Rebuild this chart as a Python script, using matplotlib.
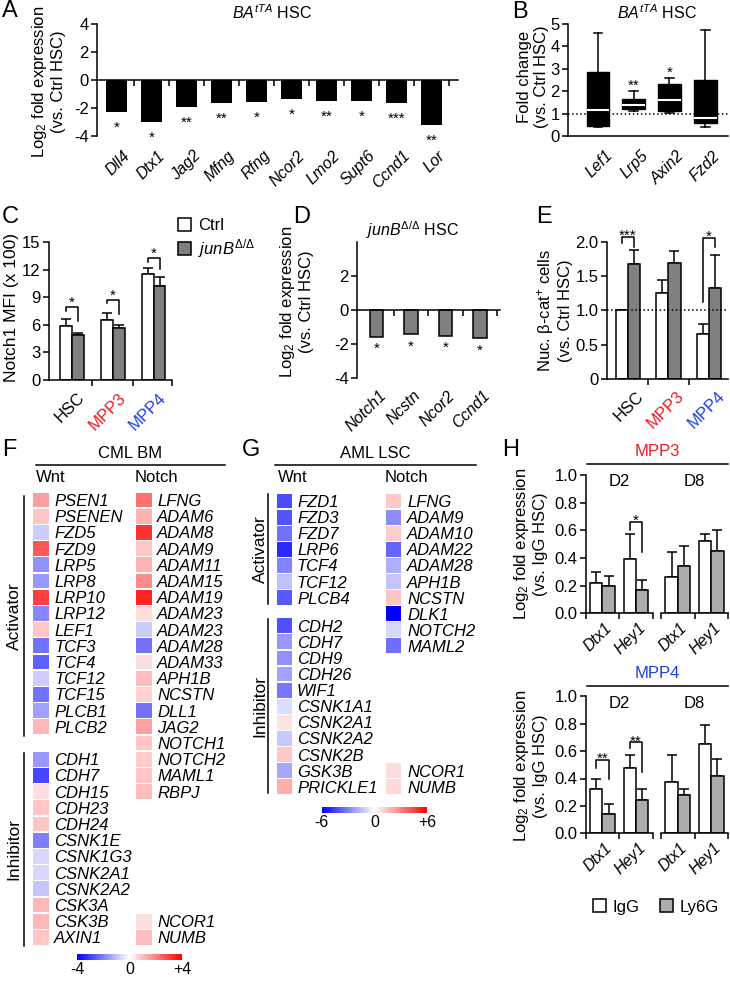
import numpy as np
import matplotlib
matplotlib.use('Agg')
import matplotlib.pyplot as plt
from matplotlib.lines import Line2D
from matplotlib.patches import Patch
from matplotlib.colors import Normalize
from matplotlib.cm import ScalarMappable

plt.rcParams['font.family'] = ['Liberation Sans', 'DejaVu Sans']
plt.rcParams['mathtext.fontset'] = 'custom'
plt.rcParams['mathtext.rm'] = 'Liberation Sans'
plt.rcParams['mathtext.it'] = 'Liberation Sans:italic'
plt.rcParams['mathtext.bf'] = 'Liberation Sans:bold'
plt.rcParams['axes.unicode_minus'] = False
plt.rcParams['axes.linewidth'] = 1.1
plt.rcParams['xtick.labelsize'] = 12
plt.rcParams['ytick.labelsize'] = 12

RED = '#ec1c24'
BLUE = '#1f3fe6'
GREY = '#808080'
LGREY = '#acacac'

# ---- data ----
# A
a_genes = ['Dll4', 'Dtx1', 'Jag2', 'Mfng', 'Rfng', 'Ncor2', 'Lmo2', 'Supt6', 'Ccnd1', 'Lor']
a_vals = [-2.28, -2.97, -1.9, -1.66, -1.55, -1.36, -1.5, -1.5, -1.66, -3.2]
a_sig = ['*', '*', '**', '**', '*', '*', '**', '*', '***', '**']

# B (box plots)
b_genes = ['Lef1', 'Lrp5', 'Axin2', 'Fzd2']
b_whislo = [0.38, 1.12, 1.01, 0.42]
b_q1 = [0.45, 1.19, 1.13, 0.6]
b_med = [1.16, 1.38, 1.6, 0.82]
b_q3 = [2.87, 1.65, 2.31, 2.5]
b_whishi = [4.59, 2.02, 2.58, 4.73]
b_sig = ['', '**', '*', '']

# C
c_groups = ['HSC', 'MPP3', 'MPP4']
c_ctrl = [5.85, 6.5, 11.5]
c_ctrl_err = [0.8, 0.8, 0.7]
c_junb = [4.85, 5.7, 10.2]
c_junb_err = [0.3, 0.3, 1.0]

# D
d_genes = ['Notch1', 'Ncstn', 'Ncor2', 'Ccnd1']
d_vals = [-1.57, -1.43, -1.51, -1.67]

# E
e_groups = ['HSC', 'MPP3', 'MPP4']
e_ctrl = [1.0, 1.26, 0.66]
e_ctrl_err = [0.0, 0.19, 0.14]
e_junb = [1.675, 1.695, 1.32]
e_junb_err = [0.2, 0.17, 0.49]

# F (CML BM), colour scale -4..+4
f_wnt_act = ['PSEN1', 'PSENEN', 'FZD5', 'FZD9', 'LRP5', 'LRP8', 'LRP10', 'LRP12', 'LEF1',
             'TCF3', 'TCF4', 'TCF12', 'TCF15', 'PLCB1', 'PLCB2']
f_wnt_act_vals = [1.5, 0.9, -0.8, 2.6, -1.7, -1.6, 3.0, -1.9, 0.9,
                  -2.2, -2.5, -0.8, -2.2, -1.5, 1.1]
f_wnt_inh = ['CDH1', 'CDH7', 'CDH15', 'CDH23', 'CDH24', 'CSNK1E', 'CSNK1G3', 'CSNK2A1',
             'CSNK2A2', 'CSK3A', 'CSK3B', 'AXIN1']
f_wnt_inh_vals = [-1.6, -2.9, 0.5, 0.9, 0.9, -2.0, -0.6, -0.6, -0.9, 1.1, 1.1, 0.9]
f_notch_act = ['LFNG', 'ADAM6', 'ADAM8', 'ADAM9', 'ADAM11', 'ADAM15', 'ADAM19', 'ADAM23',
               'ADAM23', 'ADAM28', 'ADAM33', 'APH1B', 'NCSTN', 'DLL1', 'JAG2', 'NOTCH1',
               'NOTCH2', 'MAML1', 'RBPJ']
f_notch_act_vals = [2.2, 1.2, 3.2, 0.9, 1.2, 1.8, 3.4, 0.5, -0.8, -2.2, 0.5, 1.0, 0.7,
                    -2.2, 1.5, 0.9, 0.8, 0.9, 1.0]
f_notch_inh = ['NCOR1', 'NUMB']
f_notch_inh_vals = [0.5, 1.0]

# G (AML LSC), colour scale -6..+6
g_wnt_act = ['FZD1', 'FZD3', 'FZD7', 'LRP6', 'TCF4', 'TCF12', 'PLCB4']
g_wnt_act_vals = [-4.2, -4.0, -3.3, -5.0, -2.9, -1.5, -3.9]
g_wnt_inh = ['CDH2', 'CDH7', 'CDH9', 'CDH26', 'WIF1', 'CSNK1A1', 'CSNK2A1', 'CSNK2A2',
             'CSNK2B', 'GSK3B', 'PRICKLE1']
g_wnt_inh_vals = [-4.1, -2.4, -2.6, -2.2, -3.2, -0.8, 0.7, -1.3, 1.3, -2.1, 1.9]
g_notch_act = ['LFNG', 'ADAM9', 'ADAM10', 'ADAM22', 'ADAM28', 'APH1B', 'NCSTN', 'DLK1',
               'NOTCH2', 'MAML2']
g_notch_act_vals = [1.3, -2.7, 1.2, -3.6, -1.9, -1.4, 1.4, -6.0, -0.9, -3.4]
g_notch_inh = ['NCOR1', 'NUMB']
g_notch_inh_vals = [0.8, 0.9]

# H
h_genes = ['Dtx1', 'Hey1']
h3_d2_igg = [0.22, 0.395]
h3_d2_igg_err = [0.08, 0.18]
h3_d2_ly = [0.20, 0.17]
h3_d2_ly_err = [0.07, 0.07]
h3_d8_igg = [0.26, 0.52]
h3_d8_igg_err = [0.18, 0.05]
h3_d8_ly = [0.345, 0.45]
h3_d8_ly_err = [0.145, 0.15]
h4_d2_igg = [0.32, 0.48]
h4_d2_igg_err = [0.08, 0.09]
h4_d2_ly = [0.14, 0.24]
h4_d2_ly_err = [0.075, 0.08]
h4_d8_igg = [0.375, 0.65]
h4_d8_igg_err = [0.2, 0.14]
h4_d8_ly = [0.28, 0.42]
h4_d8_ly_err = [0.045, 0.125]

# ---- helpers ----
W, H = 730, 981
fig = plt.figure(figsize=(W / 100, H / 100), dpi=100)


def px_axes(x0, y0, x1, y1):
    return fig.add_axes([x0 / W, 1 - y1 / H, (x1 - x0) / W, (y1 - y0) / H])


def ftext(x, y, s, **kw):
    return fig.text(x / W, 1 - y / H, s, **kw)


def fline(x0, x1, y):
    fig.add_artist(Line2D([x0 / W, x1 / W], [1 - y / H] * 2, color='black', lw=1.1,
                          transform=fig.transFigure))


def prism(ax):
    for s in ('top', 'right'):
        ax.spines[s].set_visible(False)
    ax.tick_params(direction='out', length=4, width=1.1, pad=2)


def rot_labels(ax, pos, labels, dx, dy, colors=None, italic=True, size=11.5):
    for i, (p, lab) in enumerate(zip(pos, labels)):
        ax.annotate(lab, (p, 0), xycoords=('data', 'axes fraction'),
                    xytext=(dx, -dy), textcoords='offset pixels',
                    ha='right', va='top', rotation=45, rotation_mode='anchor',
                    fontsize=size, style='italic' if italic else 'normal',
                    color=colors[i] if colors else 'black', annotation_clip=False)


def bracket(ax, x1, x2, top, yl, yr, s, off=0):
    ax.plot([x1, x1, x2, x2], [yl, top, top, yr], color='black', lw=1.1, clip_on=False)
    ax.annotate(s, ((x1 + x2) / 2, top), xytext=(0, off), textcoords='offset pixels',
                ha='center', va='baseline', fontsize=11, annotation_clip=False)


def grouped(ax, x, w, v1, e1, v2, e2, c2):
    x = np.asarray(x, dtype=float)
    ax.bar(x - w / 2, v1, w, color='white', edgecolor='black', lw=1.1, zorder=2)
    ax.bar(x + w / 2, v2, w, color=c2, edgecolor='black', lw=1.1, zorder=2)
    ax.errorbar(x - w / 2, v1, yerr=[np.zeros(len(v1)), e1], fmt='none', ecolor='black',
                elinewidth=1.1, capsize=3.5, capthick=1.1, zorder=1)
    ax.errorbar(x + w / 2, v2, yerr=[np.zeros(len(v2)), e2], fmt='none', ecolor='black',
                elinewidth=1.1, capsize=3.5, capthick=1.1, zorder=1)


# ---- A ----
ax = px_axes(97, 24, 458, 136)
prism(ax)
xa = np.arange(len(a_genes))
ax.bar(xa, a_vals, 0.6, color='black')
ax.set_xlim(-0.56, 9.76)
ax.set_ylim(-4, 4)
ax.set_yticks([-4, -2, 0, 2, 4])
ax.spines['bottom'].set_position(('data', 0))
ax.set_xticks(np.arange(0.5, 10, 1))
ax.set_xticklabels([])
for xi, v, s in zip(xa, a_vals, a_sig):
    ax.annotate(s, (xi, v), xytext=(0, -20), textcoords='offset pixels',
                ha='center', va='baseline', fontsize=11)
rot_labels(ax, xa, a_genes, 6, 12)
ftext(272, 13, r'$BA^{tTA}$ HSC', ha='center', va='center', fontsize=11.5)
ftext(48, 82, 'Log$_2$ fold expression\n(vs. Ctrl HSC)', ha='center', va='center',
      rotation=90, fontsize=12, linespacing=1.1)

# ---- B ----
ax = px_axes(568, 24, 728, 136)
prism(ax)
xb = np.arange(len(b_genes))
stats = [dict(whislo=lo, q1=q1, med=m, q3=q3, whishi=hi)
         for lo, q1, m, q3, hi in zip(b_whislo, b_q1, b_med, b_q3, b_whishi)]
ax.bxp(stats, positions=xb, widths=0.64, showfliers=False, patch_artist=True,
       capwidths=0.25,
       boxprops=dict(facecolor='black', edgecolor='black', lw=1),
       medianprops=dict(color='white', lw=1.5),
       whiskerprops=dict(color='black', lw=1.1),
       capprops=dict(color='black', lw=1.1))
ax.axhline(1, ls=':', color='black', lw=1.1, zorder=0)
for xi, hi, s in zip(xb, b_whishi, b_sig):
    if s:
        ax.annotate(s, (xi, hi), xytext=(0, 1), textcoords='offset pixels',
                    ha='center', va='baseline', fontsize=11)
ax.set_xlim(-0.84, 3.64)
ax.set_ylim(0, 5)
ax.set_yticks([0, 1, 2, 3, 4, 5])
ax.set_xticks([])
rot_labels(ax, xb, b_genes, 7, 12)
ftext(657, 13, r'$BA^{tTA}$ HSC', ha='center', va='center', fontsize=11.5)
ftext(533, 77, 'Fold change\n(vs. Ctrl HSC)', ha='center', va='center',
      rotation=90, fontsize=12, linespacing=1.1)

# ---- C ----
ax = px_axes(49, 242, 172, 380)
prism(ax)
xc = np.arange(len(c_groups))
grouped(ax, xc, 0.29, c_ctrl, c_ctrl_err, c_junb, c_junb_err, GREY)
ax.set_xlim(-0.56, 2.45)
ax.set_ylim(0, 15)
ax.set_yticks([0, 3, 6, 9, 12, 15])
ax.set_xticks([0.5, 1.5, 2.45])
ax.set_xticklabels([])
bracket(ax, -0.145, 0.145, 7.95, 7.45, 6.4, '*')
bracket(ax, 0.855, 1.145, 8.75, 8.4, 7.2, '*')
bracket(ax, 1.855, 2.145, 13.3, 12.8, 12.1, '*')
rot_labels(ax, xc, c_groups, 5, 10, colors=['black', RED, BLUE], italic=False, size=12)
ftext(12, 308, 'Notch1 MFI (x 100)', ha='center', va='center', rotation=90, fontsize=12.5)
fig.legend([Patch(facecolor='white', edgecolor='black', lw=1.1),
            Patch(facecolor=GREY, edgecolor='black', lw=1.1)],
           ['Ctrl', r'$junB^{\Delta/\Delta}$'],
           loc='upper left', bbox_to_anchor=(178 / W, 1 - 218 / H), frameon=False,
           fontsize=12, handlelength=0.8, handleheight=0.8, handletextpad=0.4,
           labelspacing=0.25, borderpad=0, borderaxespad=0)

# ---- D ----
ax = px_axes(357, 242, 500, 378)
prism(ax)
xd = np.arange(len(d_genes))
ax.bar(xd, d_vals, 0.39, color=GREY, edgecolor='black', lw=1.1)
ax.set_xlim(-0.565, 3.58)
ax.set_ylim(-4, 4)
ax.set_yticks([-4, -2, 0, 2])
ax.spines['bottom'].set_position(('data', 0))
ax.set_xticks(np.arange(0.5, 4, 1))
ax.set_xticklabels([])
for xi, v in zip(xd, d_vals):
    ax.annotate('*', (xi, v), xytext=(0, -16), textcoords='offset pixels',
                ha='center', va='baseline', fontsize=11)
rot_labels(ax, xd, d_genes, 2, 10)
ftext(413, 230, r'$junB^{\Delta/\Delta}$ HSC', ha='center', va='center', fontsize=11.5)
ftext(296, 302, 'Log$_2$ fold expression\n(vs. Ctrl HSC)', ha='center', va='center',
      rotation=90, fontsize=12, linespacing=1.1)

# ---- E ----
ax = px_axes(606.7, 241.7, 728, 379.3)
prism(ax)
xe = np.arange(len(e_groups))
grouped(ax, xe, 0.3, e_ctrl, e_ctrl_err, e_junb, e_junb_err, GREY)
ax.axhline(1, ls=':', color='black', lw=1.1, zorder=3)
ax.set_xlim(-0.52, 2.47)
ax.set_ylim(0, 2.0)
ax.set_yticks([0, 0.5, 1.0, 1.5, 2.0])
ax.set_yticklabels(['0', '0.5', '1.0', '1.5', '2.0'])
ax.set_xticks([0.5, 1.5])
ax.set_xticklabels([])
bracket(ax, -0.15, 0.15, 2.07, 1.98, 1.92, '***', off=-3)
bracket(ax, 1.85, 2.15, 2.05, 1.13, 1.92, '*', off=-3)
rot_labels(ax, xe, e_groups, 8, 9, colors=['black', RED, BLUE], italic=False, size=12)
ftext(554, 311, 'Nuc. β-cat$^{+}$ cells\n(vs. Ctrl HSC)', ha='center', va='center',
      rotation=90, fontsize=12, linespacing=1.1)

# ---- F / G heatmaps ----
cmap = plt.get_cmap('bwr')


def heat_axes(left, right, y_first, pitch, row_max):
    ax = px_axes(left, y_first - pitch / 2, right, y_first + (row_max + 0.5) * pitch)
    ax.set_xlim(0, right - left)
    ax.set_ylim(row_max + 0.5, -0.5)
    ax.axis('off')
    return ax


def heat_col(ax, rows, vals, genes, cell_x, label_x, norm, cell_w):
    ax.barh(rows, cell_w, left=cell_x, height=0.92, color=cmap(norm(np.asarray(vals))))
    for r, g in zip(rows, genes):
        ax.text(label_x, r, g, ha='left', va='center_baseline', style='italic', fontsize=12)


def side_label(ax, x_line, x_text, r0, r1, s):
    ax.plot([x_line, x_line], [r0, r1], color='black', lw=1.1, clip_on=False)
    ax.text(x_text, (r0 + r1) / 2, s, rotation=90, ha='center', va='center', fontsize=12.5)


def heat_cbar(x0, y0, x1, y1, lim):
    cax = px_axes(x0, y0, x1, y1)
    cb = fig.colorbar(ScalarMappable(Normalize(-lim, lim), cmap), cax=cax,
                      orientation='horizontal', ticks=[-lim, 0, lim])
    cb.outline.set_visible(False)
    cax.set_xticklabels(['-%d' % lim, '0', '+%d' % lim])
    cax.tick_params(length=0, labelsize=11.5, pad=1.5)


# F
fnorm = Normalize(-4, 4)
ax = heat_axes(33, 250, 500, 16.2, 27)
n_fa = len(f_wnt_act)
rows_fa = np.arange(n_fa)
rows_fi = n_fa + 1 + np.arange(len(f_wnt_inh))
rows_fna = np.arange(len(f_notch_act))
rows_fni = rows_fi[-len(f_notch_inh):]
heat_col(ax, rows_fa, f_wnt_act_vals, f_wnt_act, 0, 21, fnorm, 16)
heat_col(ax, rows_fi, f_wnt_inh_vals, f_wnt_inh, 0, 21, fnorm, 16)
heat_col(ax, rows_fna, f_notch_act_vals, f_notch_act, 103, 124, fnorm, 16)
heat_col(ax, rows_fni, f_notch_inh_vals, f_notch_inh, 103, 124, fnorm, 16)
side_label(ax, -9, -19, rows_fa[0] - 0.25, rows_fa[-1] + 0.55, 'Activator')
side_label(ax, -9, -19, rows_fi[0] - 0.4, rows_fi[-1] + 0.5, 'Inhibitor')
ax.text(97, -2.9, 'CML BM', ha='center', va='center', fontsize=12)
ax.plot([3, 192], [-2.16, -2.16], color='black', lw=1.1, clip_on=False)
ax.text(3, -1.36, 'Wnt', ha='left', va='center', fontsize=12)
ax.text(102, -1.36, 'Notch', ha='left', va='center', fontsize=12)
heat_cbar(77, 954, 182, 960, 4)

# G
gnorm = Normalize(-6, 6)
ax = heat_axes(277, 490, 501, 16.1, 17.75)
rows_ga = np.arange(len(g_wnt_act))
rows_gi = 7.75 + np.arange(len(g_wnt_inh))
rows_gna = np.arange(len(g_notch_act))
rows_gni = rows_gi[-len(g_notch_inh):]
heat_col(ax, rows_ga, g_wnt_act_vals, g_wnt_act, 0, 20, gnorm, 15)
heat_col(ax, rows_gi, g_wnt_inh_vals, g_wnt_inh, 0, 20, gnorm, 15)
heat_col(ax, rows_gna, g_notch_act_vals, g_notch_act, 109, 130, gnorm, 15)
heat_col(ax, rows_gni, g_notch_inh_vals, g_notch_inh, 109, 130, gnorm, 15)
side_label(ax, -9, -17, rows_ga[0] - 0.45, rows_ga[-1] + 0.4, 'Activator')
side_label(ax, -9, -17, rows_gi[0] - 0.45, rows_gi[-1] + 0.4, 'Inhibitor')
ax.text(98, -2.98, 'AML LSC', ha='center', va='center', fontsize=12)
ax.plot([-2, 199], [-2.24, -2.24], color='black', lw=1.1, clip_on=False)
ax.text(1, -1.43, 'Wnt', ha='left', va='center', fontsize=12)
ax.text(108, -1.43, 'Notch', ha='left', va='center', fontsize=12)
heat_cbar(321.7, 806.7, 427.3, 812.7, 6)

# ---- H ----
xh = np.arange(len(h_genes))


def h_pair(y0, y1, d2, d8):
    axl = px_axes(585.7, y0, 652.7, y1)
    axr = px_axes(661, y0, 728, y1)
    for a, data, name in ((axl, d2, 'D2'), (axr, d8, 'D8')):
        prism(a)
        grouped(a, xh, 0.37, data[0], data[1], data[2], data[3], LGREY)
        a.set_xlim(-0.5, 1.5)
        a.set_ylim(0, 1.0)
        a.set_xticks([-0.5, 0.5, 1.5])
        a.set_xticklabels([])
        a.text(0.5, 0.95, name, transform=a.transAxes, ha='center', va='center',
               fontsize=12)
        rot_labels(a, xh, h_genes, 2, 7)
    axl.set_yticks(np.arange(0, 1.01, 0.2))
    axl.set_yticklabels(['0.0', '0.2', '0.4', '0.6', '0.8', '1.0'])
    axr.spines['left'].set_visible(False)
    axr.set_yticks([])
    return axl, axr


axl, axr = h_pair(475, 613.3, (h3_d2_igg, h3_d2_igg_err, h3_d2_ly, h3_d2_ly_err),
                  (h3_d8_igg, h3_d8_igg_err, h3_d8_ly, h3_d8_ly_err))
bracket(axl, 1 - 0.185, 1 + 0.185, 0.66, 0.6, 0.445, '*', off=-3)
ftext(657, 452, 'MPP3', ha='center', va='center', fontsize=12, color=RED)
fline(587, 728, 464)
ftext(530, 544, 'Log$_2$ fold expression\n(vs. IgG HSC)', ha='center', va='center',
      rotation=90, fontsize=12, linespacing=1.1)

axl, axr = h_pair(696.3, 833.3, (h4_d2_igg, h4_d2_igg_err, h4_d2_ly, h4_d2_ly_err),
                  (h4_d8_igg, h4_d8_igg_err, h4_d8_ly, h4_d8_ly_err))
bracket(axl, -0.185, 0.185, 0.537, 0.476, 0.40, '**', off=-3)
bracket(axl, 1 - 0.185, 1 + 0.185, 0.663, 0.62, 0.444, '**', off=-3)
ftext(657, 673, 'MPP4', ha='center', va='center', fontsize=12, color=BLUE)
fline(587, 728, 686)
ftext(530, 766, 'Log$_2$ fold expression\n(vs. IgG HSC)', ha='center', va='center',
      rotation=90, fontsize=12, linespacing=1.1)

fig.legend([Patch(facecolor='white', edgecolor='black', lw=1.1),
            Patch(facecolor=LGREY, edgecolor='black', lw=1.1)],
           ['IgG', 'Ly6G'], loc='center', bbox_to_anchor=(656 / W, 1 - 907 / H),
           ncol=2, frameon=False, fontsize=12, handlelength=0.8, handleheight=0.8,
           handletextpad=0.4, columnspacing=1.2, borderpad=0)

# ---- panel letters ----
for letter, x, y in [('A', 2, 0), ('B', 512, 1), ('C', 2, 206), ('D', 293, 206),
                     ('E', 536, 206), ('F', 2, 439), ('G', 242, 439), ('H', 502, 439)]:
    ftext(x, y, letter, ha='left', va='top', fontsize=17)

fig.savefig('out.png', dpi=100)
